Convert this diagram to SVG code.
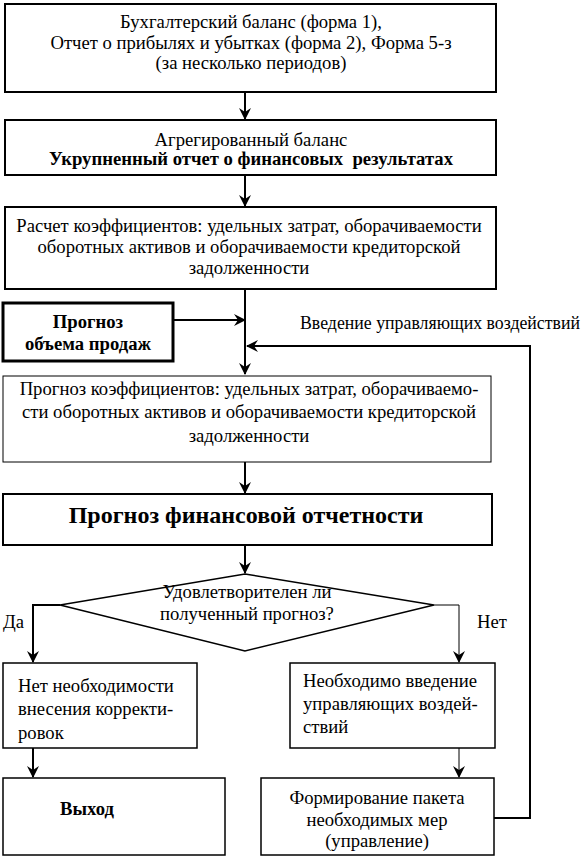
<svg xmlns="http://www.w3.org/2000/svg" width="586" height="863" viewBox="0 0 586 863">
<defs>
<marker id="ah" viewBox="0 0 12 12" refX="11" refY="6" markerWidth="12" markerHeight="12" markerUnits="userSpaceOnUse" orient="auto">
<path d="M0,0 L12,6 L0,12 L4,6 z" fill="#000"/>
</marker>
</defs>
<rect width="586" height="863" fill="#fff"/>
<g id="connectors" fill="none" stroke="#000">
<line stroke-width="2" x1="245" y1="92" x2="245" y2="119" marker-end="url(#ah)"/>
<line stroke-width="2" x1="245" y1="175" x2="245" y2="206" marker-end="url(#ah)"/>
<line stroke-width="2" x1="245" y1="289" x2="245" y2="374" marker-end="url(#ah)"/>
<line stroke-width="2" x1="173" y1="320" x2="245" y2="320" marker-end="url(#ah)"/>
<polyline stroke-width="2" points="494,818 530,818 530,346 247,346" marker-end="url(#ah)"/>
<line stroke-width="2" x1="245" y1="462" x2="245" y2="493" marker-end="url(#ah)"/>
<line stroke-width="2" x1="245" y1="545" x2="245" y2="573" marker-end="url(#ah)"/>
<polyline stroke-width="2" points="60,605 33,605 33,662" marker-end="url(#ah)"/>
<polyline stroke-width="1" points="434,605 459,605 459,662" marker-end="url(#ah)"/>
<line stroke-width="2" x1="33" y1="748" x2="33" y2="777" marker-end="url(#ah)"/>
<line stroke-width="1" x1="459" y1="748" x2="459" y2="777" marker-end="url(#ah)"/>
</g>
<g id="labels">
<text font-family="Liberation Serif" font-size="18" x="300" y="329" textLength="280" lengthAdjust="spacingAndGlyphs">Введение управляющих воздействий</text>
<text font-family="Liberation Serif" font-size="18.67" x="3" y="628">Да</text>
<text font-family="Liberation Serif" font-size="18.67" x="477" y="628">Нет</text>
</g>
<g id="n1">
<rect fill="#fff" stroke="#000" x="5" y="4" width="491" height="88" stroke-width="2"/>
<text font-family="Liberation Serif" font-size="18.67" text-anchor="middle" x="251" y="28">Бухгалтерский баланс (форма 1),</text>
<text font-family="Liberation Serif" font-size="18.67" text-anchor="middle" x="251" y="49">Отчет о прибылях и убытках (форма 2), Форма 5-з</text>
<text font-family="Liberation Serif" font-size="18.67" text-anchor="middle" x="251" y="69">(за несколько периодов)</text>
</g>
<g id="n2">
<rect fill="#fff" stroke="#000" x="5" y="120" width="491" height="55" stroke-width="2"/>
<text font-family="Liberation Serif" font-size="18.67" text-anchor="middle" x="251" y="146">Агрегированный баланс</text>
<text font-family="Liberation Serif" font-size="18.67" font-weight="bold" text-anchor="middle" x="251" y="165">Укрупненный отчет о финансовых &#160;результатах</text>
</g>
<g id="n3">
<rect fill="#fff" stroke="#000" x="5" y="207" width="491" height="82" stroke-width="2"/>
<text font-family="Liberation Serif" font-size="18.67" text-anchor="middle" x="249" y="232">Расчет коэффициентов: удельных затрат, оборачиваемости</text>
<text font-family="Liberation Serif" font-size="18.67" text-anchor="middle" x="249" y="253">оборотных активов и оборачиваемости кредиторской</text>
<text font-family="Liberation Serif" font-size="18.67" text-anchor="middle" x="249" y="274">задолженности</text>
</g>
<g id="n4">
<rect fill="#fff" stroke="#000" x="3" y="303" width="170" height="58" stroke-width="3"/>
<text font-family="Liberation Serif" font-size="18.67" font-weight="bold" text-anchor="middle" x="88" y="328">Прогноз</text>
<text font-family="Liberation Serif" font-size="18.67" font-weight="bold" text-anchor="middle" x="88" y="350">объема продаж</text>
</g>
<g id="n5">
<rect fill="#fff" stroke="#000" x="3" y="376" width="488" height="86" stroke-width="1"/>
<text font-family="Liberation Serif" font-size="18.67" text-anchor="middle" x="249" y="395">Прогноз коэффициентов: удельных затрат, оборачиваемо-</text>
<text font-family="Liberation Serif" font-size="18.67" text-anchor="middle" x="249" y="418">сти оборотных активов и оборачиваемости кредиторской</text>
<text font-family="Liberation Serif" font-size="18.67" text-anchor="middle" x="249" y="442">задолженности</text>
</g>
<g id="n6">
<rect fill="#fff" stroke="#000" x="3" y="494" width="489" height="51" stroke-width="2"/>
<text font-family="Liberation Serif" font-size="24" font-weight="bold" text-anchor="middle" x="246" y="523">Прогноз финансовой отчетности</text>
</g>
<g id="n7">
<polygon fill="#fff" stroke="#000" points="245,574 434,605 245,651 60,605" stroke-width="1.5"/>
<text font-family="Liberation Serif" font-size="18.67" text-anchor="middle" x="247" y="598">Удовлетворителен ли</text>
<text font-family="Liberation Serif" font-size="18.67" text-anchor="middle" x="247" y="620">полученный прогноз?</text>
</g>
<g id="n8">
<rect fill="#fff" stroke="#000" x="3" y="663" width="194" height="85" stroke-width="1.5"/>
<text font-family="Liberation Serif" font-size="18.67" x="18" y="692">Нет необходимости</text>
<text font-family="Liberation Serif" font-size="18.67" x="18" y="715">внесения корректи-</text>
<text font-family="Liberation Serif" font-size="18.67" x="18" y="739">ровок</text>
</g>
<g id="n9">
<rect fill="#fff" stroke="#000" x="290" y="663" width="205" height="85" stroke-width="1.5"/>
<text font-family="Liberation Serif" font-size="18.67" x="303" y="687">Необходимо введение</text>
<text font-family="Liberation Serif" font-size="18.67" x="303" y="710">управляющих воздей-</text>
<text font-family="Liberation Serif" font-size="18.67" x="303" y="733">ствий</text>
</g>
<g id="n10">
<rect fill="#fff" stroke="#000" x="3" y="778" width="222" height="77" stroke-width="1.5"/>
<text font-family="Liberation Serif" font-size="18.67" font-weight="bold" x="60" y="815">Выход</text>
</g>
<g id="n11">
<rect fill="#fff" stroke="#000" x="261" y="778" width="233" height="77" stroke-width="1.5"/>
<text font-family="Liberation Serif" font-size="18.67" text-anchor="middle" x="377" y="804">Формирование пакета</text>
<text font-family="Liberation Serif" font-size="18.67" text-anchor="middle" x="377" y="826">необходимых мер</text>
<text font-family="Liberation Serif" font-size="18.67" text-anchor="middle" x="377" y="847">(управление)</text>
</g>
</svg>
